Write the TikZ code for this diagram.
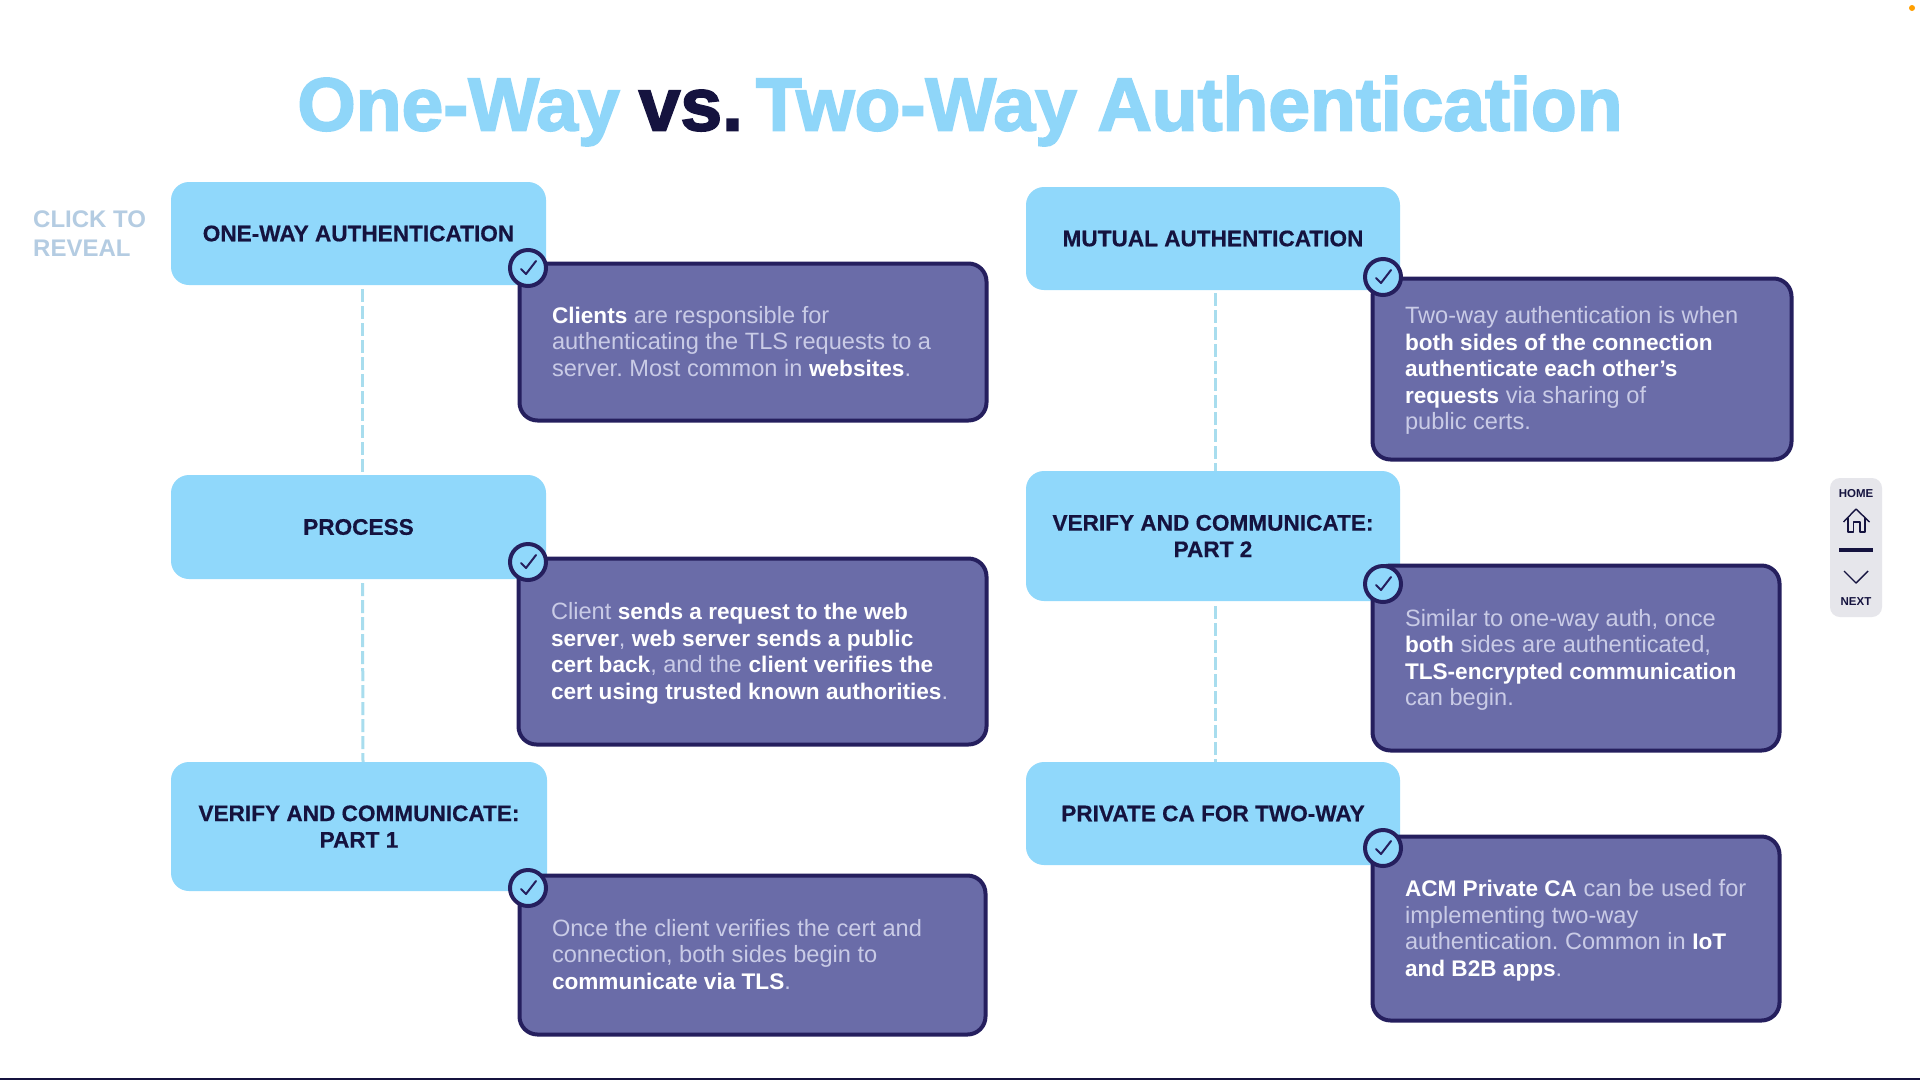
\documentclass[tikz,border=0pt]{standalone}
\usepackage{fontspec}
\setmainfont{Liberation Sans}
\newfontfamily\titlefont[FakeBold=2.4]{Liberation Sans}
\newfontfamily\headfont[FakeBold=0.5]{Liberation Sans}
\definecolor{sky}{HTML}{90D8FB}
\definecolor{titlesky}{HTML}{8FD6F9}
\definecolor{violet2}{HTML}{6A6CA8}
\definecolor{navy}{HTML}{15133F}
\definecolor{edge}{HTML}{251F5E}
\definecolor{soft}{HTML}{C9CBE6}
\definecolor{dashc}{HTML}{A8DDEE}
\definecolor{hint}{HTML}{B4CCE2}
\definecolor{panel}{HTML}{E6E6EB}
\newcommand{\hl}[1]{{\fontsize{22.6}{26.5}\selectfont\textbf{\textcolor{white}{#1}}}}
\tikzset{
  headbox/.style={fill=sky,rounded corners=18pt,inner sep=0pt,align=center,text=navy,
     font=\headfont\fontsize{22.6}{26.5}\selectfont\bfseries},
  textbox/.style={fill=violet2,draw=edge,line width=4pt,rounded corners=18pt,inner sep=0pt,
     text=soft,font=\fontsize{23.6}{26.5}\selectfont\frenchspacing},
  tick/.style={circle,fill=sky,draw=edge,line width=4pt,minimum size=36pt,inner sep=0pt},
  tickmark/.style={draw=edge,line width=2pt,line cap=round,line join=round},
  link/.style={draw=dashc,line width=3pt,dash pattern=on 13pt off 4pt},
  paneltxt/.style={text=navy,inner sep=0pt,font=\fontsize{11.5}{12}\selectfont\bfseries},
  panelline/.style={draw=navy,line width=1.4pt,line join=round},
}
% name x0 y0 x1 y1 text
\newcommand{\headbox}[6]{\pgfmathsetmacro{\cxx}{(#2+#4)/2}\pgfmathsetmacro{\cyy}{(#3+#5)/2}%
  \pgfmathsetmacro{\ww}{#4-#2}\pgfmathsetmacro{\hh}{#5-#3}%
  \node[headbox,minimum width=\ww pt,minimum height=\hh pt] (#1) at (\cxx,\cyy) {#6};}
\newcommand{\textbox}[6]{\pgfmathsetmacro{\cxx}{(#2+#4)/2}\pgfmathsetmacro{\cyy}{(#3+#5)/2}%
  \pgfmathsetmacro{\ww}{#4-#2-3}\pgfmathsetmacro{\hh}{#5-#3-3}\pgfmathsetmacro{\tw}{#4-#2-68}%
  \node[textbox,minimum width=\ww pt,minimum height=\hh pt] (#1) at (\cxx,\cyy)
   {\makebox[\tw pt][l]{\vbox{\kern5.2pt\hbox{\begin{tabular}{@{}l@{}}#6\end{tabular}}}}};}
\newcommand{\tickat}[3]{\node[tick] (#1) at (#2,#3) {};
  \draw[tickmark] ([shift={(-7,1)}]#1.center) -- ([shift={(-2,6)}]#1.center) -- ([shift={(8,-7)}]#1.center);}
\begin{document}
\begin{tikzpicture}[x=1pt,y=-1pt]
\useasboundingbox (0,0) rectangle (1920,1080);
\fill[white] (0,0) rectangle (1920,1080);
\fill[navy] (0,1078) rectangle (1920,1080);
\fill[orange!75!yellow] (1912,8) circle (3);

\node[inner sep=0pt,font=\titlefont\fontsize{75}{80}\selectfont\bfseries] (title) at (960,111)
  {\textcolor{titlesky}{One-Way}\hspace{19pt}\textcolor{navy}{vs.}\hspace{13pt}\textcolor{titlesky}{Two-Way Authentication}};
\node[anchor=west,align=left,inner sep=0pt,text=hint,font=\fontsize{24}{29}\selectfont\bfseries] (hinttxt) at (33,234) {CLICK TO\\REVEAL};

% heads
\headbox{a1}{171}{182}{546}{285}{ONE-WAY AUTHENTICATION}
\headbox{a2}{171}{475}{546}{579}{PROCESS}
\headbox{a3}{171}{762}{547}{891}{VERIFY AND COMMUNICATE:\\PART 1}
\headbox{b1}{1026}{187}{1400}{290}{MUTUAL AUTHENTICATION}
\headbox{b2}{1026}{471}{1400}{601}{VERIFY AND COMMUNICATE:\\PART 2}
\headbox{b3}{1026}{762}{1400}{865}{PRIVATE CA FOR TWO-WAY}

% connectors
\draw[link] ([xshift=4pt,yshift=-4pt]a1.south) -- ([xshift=4pt]a2.north);
\draw[link] ([xshift=4pt,yshift=-4pt]a2.south) -- ([xshift=4pt]a3.north);
\draw[link] ([xshift=2pt,yshift=-3pt]b1.south) -- ([xshift=2pt]b2.north);
\draw[link] ([xshift=2pt,yshift=-5pt]b2.south) -- ([xshift=2pt]b3.north);

% detail boxes
\textbox{p1}{518}{262}{988}{422}{\hl{Clients} are responsible for\\authenticating the TLS requests to a\\server. Most common in \hl{websites}.}
\textbox{p2}{517}{557}{988}{746}{Client \hl{sends a request to the web}\\\hl{server}, \hl{web server sends a public}\\\hl{cert back}, and the \hl{client verifies the}\\\hl{cert using trusted known authorities}.}
\textbox{p3}{518}{874}{987}{1036}{Once the client verifies the cert and\\connection, both sides begin to\\\hl{communicate via TLS}.}
\textbox{q1}{1371}{277}{1793}{461}{Two-way authentication is when\\\hl{both sides of the connection}\\\hl{authenticate each other’s}\\\hl{requests} via sharing of\\public certs.}
\textbox{q2}{1371}{564}{1781}{752}{Similar to one-way auth, once\\\hl{both} sides are authenticated,\\\hl{TLS-encrypted communication}\\can begin.}
\textbox{q3}{1371}{835}{1781}{1022}{\hl{ACM Private CA} can be used for\\implementing two-way\\authentication. Common in \hl{IoT}\\\hl{and B2B apps}.}

% check badges
\tickat{c1}{528}{268}
\tickat{c2}{528}{562}
\tickat{c3}{528}{888}
\tickat{d1}{1383}{277}
\tickat{d2}{1383}{584}
\tickat{d3}{1383}{848}

% navigation panel
\fill[panel,rounded corners=10pt] (1830,478) rectangle (1882,617);
\node[paneltxt] (home) at (1856,494) {HOME};
\node[paneltxt] (next) at (1856,602) {NEXT};
\draw[panelline] (1843.5,522) -- (1856,509) -- (1869.5,522);
\draw[panelline] (1848,518) -- (1848,532) -- (1853.5,532) -- (1853.5,522) -- (1860,522) -- (1860,532) -- (1865,532) -- (1865,518);
\draw[navy,line width=3.5pt] (1839,550) -- (1873,550);
\draw[panelline] (1844,571) -- (1856,583) -- (1868,571);
\end{tikzpicture}
\end{document}
